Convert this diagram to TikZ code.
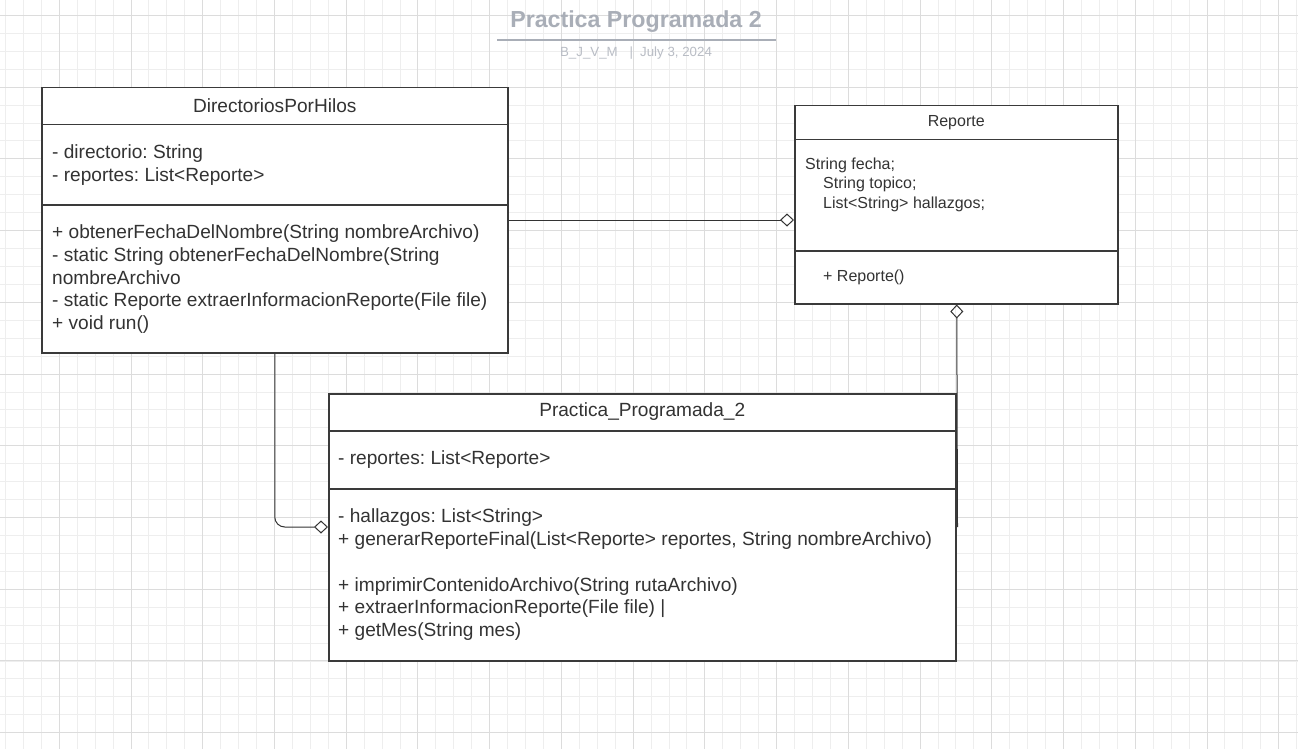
\documentclass[tikz,border=0pt]{standalone}
\usepackage{fontspec}
\setmainfont{Liberation Sans}
\frenchspacing
\usetikzlibrary{arrows.meta,calc}
\definecolor{ink}{HTML}{333333}
\definecolor{boxline}{HTML}{3A3A3A}
\definecolor{gridminor}{HTML}{EEEEEE}
\definecolor{gridmajor}{HTML}{DCDCDC}
\definecolor{titlegray}{HTML}{A9AEB7}
\definecolor{subgray}{HTML}{B9BDC5}
\tikzset{
  compart/.style={draw=boxline, line width=1.5pt, fill=white, minimum width=#1, inner sep=0pt, anchor=north west},
  bigtxt/.style={text=ink, inner sep=0pt, align=left, font=\fontsize{19.1}{22.8}\selectfont},
  smalltxt/.style={text=ink, inner sep=0pt, align=left, font=\fontsize{16}{19.3}\selectfont},
  assoc/.style={draw=ink, line width=1pt},
  agg/.style={-{Diamond[open, length=14pt, width=13pt, line width=1pt]}},
  aggstart/.style={{Diamond[open, length=14pt, width=13pt, line width=1pt]}-},
}
\begin{document}
\begin{tikzpicture}[x=1pt,y=-1pt]
\useasboundingbox (0,0) rectangle (1298,749);
\fill[white] (0,0) rectangle (1298,749);
% grid
\foreach \i in {0,...,73} {
  \pgfmathsetmacro\gx{-12.4+17.933*\i}
  \draw[gridminor, line width=1pt] (\gx,0) -- (\gx,749);
}
\foreach \i in {0,...,42} {
  \pgfmathsetmacro\gy{-2.5+17.933*\i}
  \draw[gridminor, line width=1pt] (0,\gy) -- (1298,\gy);
}
\foreach \i in {0,...,18} {
  \pgfmathsetmacro\gx{-12.4+71.73*\i}
  \draw[gridmajor, line width=1pt] (\gx,0) -- (\gx,749);
}
\foreach \i in {0,...,10} {
  \pgfmathsetmacro\gy{15.4+71.73*\i}
  \draw[gridmajor, line width=1pt] (0,\gy) -- (1298,\gy);
}

% title
\node[text=titlegray, font=\fontsize{23.2}{26}\bfseries\selectfont, inner sep=0pt] (title) at (636,21.5) {Practica Programada 2};
\coordinate (tl) at (497,40);
\coordinate (tr) at (776,40);
\draw[titlegray, line width=2pt] (tl) -- (tr);
\node[text=subgray, font=\fontsize{13.3}{15}\selectfont, inner sep=0pt] (subtitle) at (636,53.3) {B\_J\_V\_M\hspace{12pt}|\hspace{7pt}July 3, 2024};

% DirectoriosPorHilos
\node[compart=466pt, minimum height=37pt] (dirH) at (41,87) {};
\node[compart=466pt, minimum height=80pt] (dirA) at (41,124) {};
\node[compart=466pt, minimum height=148pt] (dirM) at (41,204) {};
\node[bigtxt] (dirHt) at ($(dirH.center)+(0,-0.5)$) {DirectoriosPorHilos};
\node[bigtxt, anchor=west] (dirAt) at ($(dirA.west)+(11,0.5)$) {- directorio: String\\- reportes: List<Reporte>};
\node[bigtxt, anchor=west] (dirMt) at ($(dirM.west)+(11,0.5)$) {+ obtenerFechaDelNombre(String nombreArchivo)\\- static String obtenerFechaDelNombre(String\\nombreArchivo\\- static Reporte extraerInformacionReporte(File file)\\+ void run()};

% Reporte
\node[compart=323pt, minimum height=34pt] (repH) at (794,105) {};
\node[compart=323pt, minimum height=111pt] (repA) at (794,139) {};
\node[compart=323pt, minimum height=53pt] (repM) at (794,250) {};
\node[smalltxt] (repHt) at ($(repH.center)+(0,-0.5)$) {Reporte};
\node[smalltxt, anchor=west] (repAt) at ($(repA.west)+(11,-10.5)$) {String fecha;\\\hspace*{18pt}String topico;\\\hspace*{18pt}List<String> hallazgos;};
\node[smalltxt, anchor=west] (repMt) at ($(repM.west)+(29,0.5)$) {+ Reporte()};

% Practica_Programada_2
\node[compart=627pt, minimum height=37pt] (pracH) at (328,393) {};
\node[compart=627pt, minimum height=58pt] (pracA) at (328,430) {};
\node[compart=627pt, minimum height=172pt] (pracM) at (328,488) {};
\node[bigtxt] (pracHt) at ($(pracH.center)+(0,-1)$) {Practica\_Programada\_2};
\node[bigtxt, anchor=west] (pracAt) at ($(pracA.west)+(10,-0.5)$) {- reportes: List<Reporte>};
\node[bigtxt, anchor=west] (pracMt) at ($(pracM.west)+(10,0)$) {- hallazgos: List<String>\\+ generarReporteFinal(List<Reporte> reportes, String nombreArchivo)\\\mbox{}\\+ imprimirContenidoArchivo(String rutaArchivo)\\+ extraerInformacionReporte(File file) |\\+ getMes(String mes)};

% connectors
\coordinate (j1) at ($(dirM.north east)+(0,16)$);
\coordinate (j2) at ($(pracM.north west)+(0,39)$);
\coordinate (j3) at ($(pracM.north east)+(1,39)$);
\draw[assoc, agg] (j1) -- (j1 -| repA.west);
\draw[assoc, agg, rounded corners=10pt] (dirM.south) |- (j2);
\draw[assoc, aggstart] ($(repM.south)+(0.5,0)$) -- (j3);
\end{tikzpicture}
\end{document}
